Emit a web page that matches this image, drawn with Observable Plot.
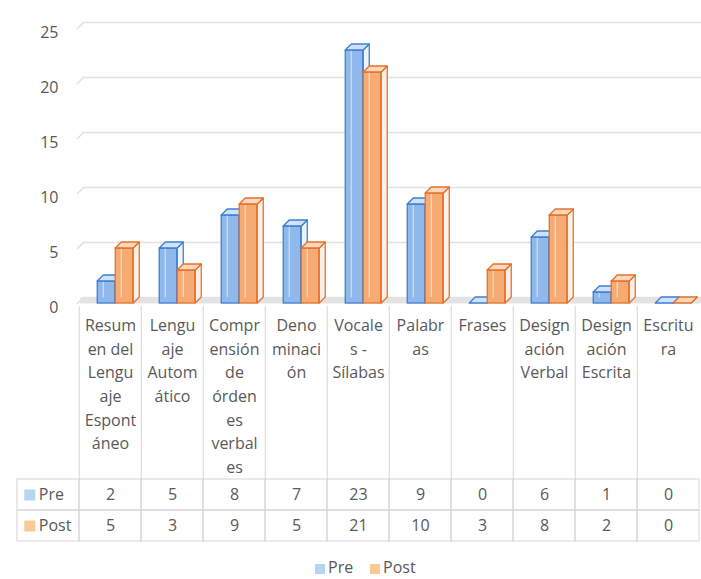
<!DOCTYPE html>
<html>
<head>
<meta charset="utf-8">
<script src="https://cdn.jsdelivr.net/npm/d3@7"></script>
<script src="https://cdn.jsdelivr.net/npm/@observablehq/plot@0.6"></script>
<style>
  html, body { margin: 0; padding: 0; background: #fff; }
  body { width: 701px; height: 579px; overflow: hidden; font-family: "Open Sans", sans-serif; }
  #chart { position: relative; width: 701px; height: 579px; }
  #bars { position: absolute; left: 0; top: 0; }
  #table { position: absolute; left: 0; top: 305px; }
  #legend { position: absolute; left: 0; top: 557px; width: 701px; height: 20px; color: #595959; font-size: 16px; line-height: 20px; }
  #legend .sw { position: absolute; top: 7px; width: 10px; height: 10px; }
  #legend .lb { position: absolute; top: 0; }
</style>
</head>
<body>
<div id="chart">
  <div id="bars"></div>
  <div id="table"></div>
  <div id="legend"></div>
</div>
<script>
// Subtests of the language assessment, before and after the intervention
const categories = [
  "Resumen del Lenguaje Espontáneo",
  "Lenguaje Automático",
  "Comprensión de órdenes verbales",
  "Denominación",
  "Vocales - Sílabas",
  "Palabras",
  "Frases",
  "Designación Verbal",
  "Designación Escrita",
  "Escritura"
];
// Category labels as wrapped in the data table header
const tickLabels = [
  "Resum\nen del\nLengu\naje\nEspont\náneo",
  "Lengu\naje\nAutom\nático",
  "Compr\nensión\nde\nórden\nes\nverbal\nes",
  "Deno\nminaci\nón",
  "Vocale\ns -\nSílabas",
  "Palabr\nas",
  "Frases",
  "Design\nación\nVerbal",
  "Design\nación\nEscrita",
  "Escritu\nra"
];
const series = ["Pre", "Post"];
const pre = [2, 5, 8, 7, 23, 9, 0, 6, 1, 0];
const post = [5, 3, 9, 5, 21, 10, 3, 8, 2, 0];
const yTicks = [0, 5, 10, 15, 20, 25];

// Colours of the two series: face, outline, top, side, key swatch
const palette = {
  Pre:  {front: "#8fb9ea", edge: "#3f7fd6", top: "#cfe2f7", side: "#eef4fc", key: "#b4d6f3"},
  Post: {front: "#f6ab74", edge: "#e5722a", top: "#fbd8bd", side: "#fdf1e7", key: "#f9c996"}
};

const BAND = 62.5;              // width of one category column
const FACE = 18;                // width of a column's front face
const DEPTH = 6;                // 3D depth offset in pixels
const INSET = (BAND - FACE) / 2;
const GRID = "#e2e2e2";
const RULE = "#d6d6d6";
const TEXT = "#595959";

// A column series drawn as 3D prisms: front face by barY, top and side faces added in render
function columns3d(values, name, offset) {
  const c = palette[name];
  const data = categories.map((category, i) => ({category, value: values[i]}));
  return Plot.barY(data, {
    x: "category",
    y: "value",
    fill: c.front,
    stroke: c.edge,
    strokeWidth: 1.3,
    insetLeft: INSET,
    insetRight: INSET,
    dx: offset,
    render(index, scales, channels, dimensions, context, next) {
      const g = next(index, scales, channels, dimensions, context);
      const sel = d3.select(g);
      for (const i of index) {
        const x = channels.x[i] + INSET;
        const yt = Math.min(channels.y1[i], channels.y2[i]);
        const yb = Math.max(channels.y1[i], channels.y2[i]);
        // rear vertical edge, seen through the translucent face
        if (yb - yt > DEPTH) {
          sel.append("path")
            .attr("d", `M${x + DEPTH},${yt}V${yb - DEPTH}`)
            .attr("fill", "none")
            .attr("stroke", "#ffffff")
            .attr("stroke-opacity", 0.55)
            .attr("stroke-width", 1.2);
        }
        // side face
        sel.append("path")
          .attr("d", `M${x + FACE},${yt}l${DEPTH},${-DEPTH}V${yb - DEPTH}l${-DEPTH},${DEPTH}Z`)
          .attr("fill", c.side)
          .attr("stroke", c.edge)
          .attr("stroke-linejoin", "round");
        // top face
        sel.append("path")
          .attr("d", `M${x},${yt}H${x + FACE}l${DEPTH},${-DEPTH}H${x + DEPTH}Z`)
          .attr("fill", c.top)
          .attr("stroke", c.edge)
          .attr("stroke-linejoin", "round");
      }
      return g;
    }
  });
}

// Short diagonal where each gridline meets the left wall
const wallEdge = {
  draw(context, length) {
    context.moveTo(0, 0);
    context.lineTo(0, -length);
  }
};

const barsChart = Plot.plot({
  width: 701,
  height: 305,
  marginLeft: 77,
  marginRight: 0,
  marginTop: 0,
  marginBottom: 0,
  style: {fontFamily: "'Open Sans', sans-serif", fontSize: "16px", color: TEXT, background: "transparent", overflow: "visible"},
  x: {domain: categories, range: [77, 702], padding: 0, axis: null},
  y: {domain: [0, 25], range: [303, 28], axis: null},
  marks: [
    Plot.gridY(yTicks, {dy: -DEPTH, insetLeft: DEPTH, stroke: GRID, strokeOpacity: 1, strokeWidth: 1.6}),
    Plot.vector(yTicks, {y: d => d, frameAnchor: "left", length: DEPTH * Math.SQRT2, rotate: 45, anchor: "start", stroke: GRID, strokeWidth: 1.6, shape: wallEdge}),
    Plot.ruleY([0], {dy: -DEPTH / 2, insetLeft: DEPTH / 2, stroke: "#e3e3e3", strokeWidth: DEPTH}),
    Plot.axisY(yTicks, {tickSize: 0, tickPadding: 19, dy: 4, fontSize: 16, fill: TEXT, label: null}),
    columns3d(pre, "Pre", -5),
    columns3d(post, "Post", 13)
  ]
});
document.getElementById("bars").appendChild(barsChart);

// Data table under the columns
const tableCols = ["", ...categories];
const gridCells = tableCols.flatMap(col => series.map(s => ({col, series: s})));
const valueCells = categories.flatMap((col, i) => [
  {col, series: "Pre", value: pre[i]},
  {col, series: "Post", value: post[i]}
]);

const tableChart = Plot.plot({
  width: 701,
  height: 241,
  margin: 0,
  style: {fontFamily: "'Open Sans', sans-serif", fontSize: "16px", color: TEXT, background: "transparent", overflow: "visible"},
  x: {domain: tableCols, range: [14.5, 702], padding: 0, axis: null},
  y: {domain: series, range: [174, 236], padding: 0, axis: null},
  marks: [
    Plot.ruleX(categories, {dx: -BAND / 2, insetTop: 1, insetBottom: 241 - 174, stroke: RULE}),
    Plot.cell(gridCells, {x: "col", y: "series", fill: "none", stroke: RULE}),
    Plot.text(tickLabels, {x: (d, i) => categories[i], text: d => d, frameAnchor: "top", lineAnchor: "top", dy: 9, lineHeight: 1.475, fill: TEXT}),
    Plot.text(valueCells, {x: "col", y: "series", text: "value", fill: TEXT}),
    Plot.dot(["Pre"], {x: () => "", y: d => d, symbol: "square", r: 6.2, fill: palette.Pre.key, dx: -18.75}),
    Plot.dot(["Post"], {x: () => "", y: d => d, symbol: "square", r: 6.2, fill: palette.Post.key, dx: -18.75}),
    Plot.text(series, {x: () => "", y: d => d, text: d => d, textAnchor: "start", dx: -9.75, fill: TEXT})
  ]
});
document.getElementById("table").appendChild(tableChart);

// Legend
const legend = document.getElementById("legend");
const legendPos = {Pre: 315, Post: 370};
for (const s of series) {
  const sw = document.createElement("div");
  sw.className = "sw";
  sw.style.left = legendPos[s] + "px";
  sw.style.background = palette[s].key;
  legend.appendChild(sw);
  const lb = document.createElement("div");
  lb.className = "lb";
  lb.style.left = (legendPos[s] + 13) + "px";
  lb.textContent = s;
  legend.appendChild(lb);
}
</script>
</body>
</html>
